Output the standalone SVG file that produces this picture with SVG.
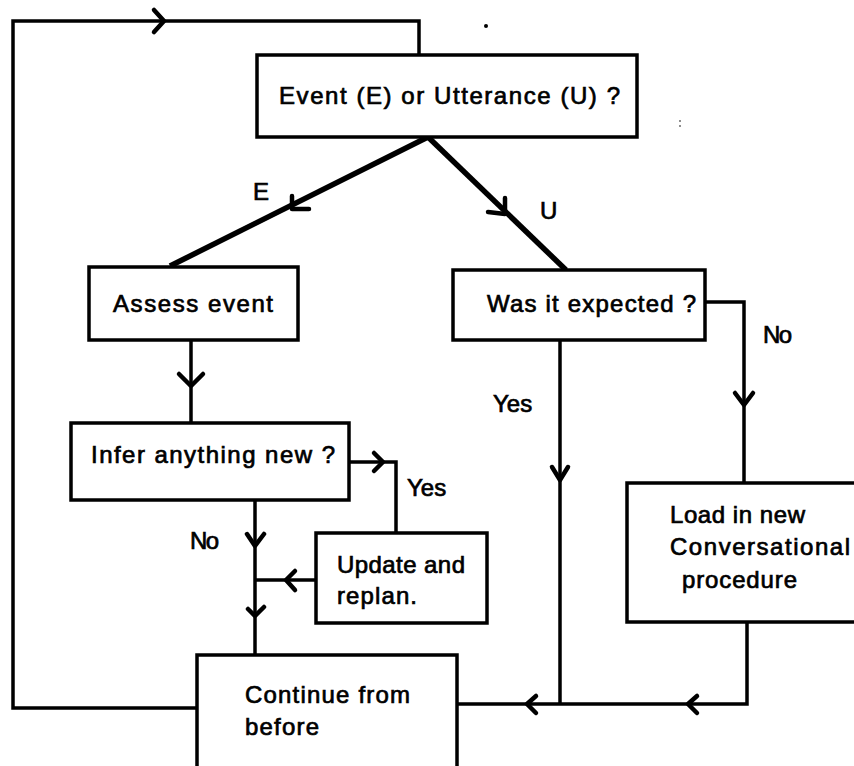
<svg xmlns="http://www.w3.org/2000/svg" width="854" height="766" viewBox="0 0 854 766">
<style>
.box{fill:#fff;stroke:#000;stroke-width:3.5}
.ln{fill:none;stroke:#000;stroke-width:3.5;stroke-linejoin:miter}
.thick{fill:none;stroke:#000;stroke-width:5.5}
.arr{fill:none;stroke:#000;stroke-width:4.5;stroke-linecap:round;stroke-linejoin:round}
text{font-family:"Liberation Sans",Arial,sans-serif;font-size:24px;fill:#000;stroke:#000;stroke-width:0.7}
</style>
<rect width="854" height="766" fill="#fff"/>
<g id="connectors">
<path class="ln" d="M197,708 H13 V21 H419 V55"/>
<path class="thick" d="M428,137 L170,266"/>
<path class="thick" d="M428,137 L566,270"/>
<path class="ln" d="M191,340 V423"/>
<path class="ln" d="M349,462 H396 V533"/>
<path class="ln" d="M255,500 V655"/>
<path class="ln" d="M316,580 H255"/>
<path class="ln" d="M705,302 H744 V483"/>
<path class="ln" d="M560,340 V704"/>
<path class="ln" d="M747,622 V704 H457"/>
<path class="arr" d="M154,10 L164,21 L154,32"/>
<path class="arr" d="M292,196 L292,209 L309,209"/>
<path class="arr" d="M505,198 L505,214 L488,212"/>
<path class="arr" d="M179,374 L191,386 L203,374"/>
<path class="arr" d="M374,453 L383,462 L374,471"/>
<path class="arr" d="M735,393 L744,405 L753,393"/>
<path class="arr" d="M552,467 L560,480 L568,467"/>
<path class="arr" d="M247,534 L255,546 L264,534"/>
<path class="arr" d="M248,609 L255,616 L264,607"/>
<path class="arr" d="M295,571 L286,580 L295,590"/>
<path class="arr" d="M536,696 L527,704 L536,713"/>
<path class="arr" d="M697,696 L688,704 L697,713"/>
</g>
<g id="labels">
<text x="253" y="200">E</text>
<text x="540" y="219">U</text>
<text x="763" y="343" letter-spacing="-1.5">No</text>
<text x="493" y="412">Yes</text>
<text x="407" y="496">Yes</text>
<text x="190" y="549" letter-spacing="-1.5">No</text>
</g>
<g id="node-event-or-utterance">
<rect class="box" x="257" y="55" width="380" height="82"/>
<text x="279" y="104" textLength="341" lengthAdjust="spacing">Event (E) or Utterance (U) ?</text>
</g>
<g id="node-assess-event">
<rect class="box" x="89" y="267" width="209" height="73"/>
<text x="113" y="312" textLength="160" lengthAdjust="spacing">Assess event</text>
</g>
<g id="node-was-it-expected">
<rect class="box" x="453" y="270" width="252" height="70"/>
<text x="487" y="312" textLength="209" lengthAdjust="spacing">Was it expected ?</text>
</g>
<g id="node-infer">
<rect class="box" x="71" y="423" width="278" height="77"/>
<text x="91" y="463" textLength="244" lengthAdjust="spacing">Infer anything new ?</text>
</g>
<g id="node-update">
<rect class="box" x="316" y="533" width="171" height="90"/>
<text x="337" y="573" textLength="128" lengthAdjust="spacing">Update and</text>
<text x="337" y="604" textLength="80" lengthAdjust="spacing">replan.</text>
</g>
<g id="node-load">
<rect class="box" x="627" y="483" width="240" height="139"/>
<text x="670" y="523" textLength="135" lengthAdjust="spacing">Load in new</text>
<text x="670" y="555" textLength="180" lengthAdjust="spacing">Conversational</text>
<text x="682" y="588" textLength="115" lengthAdjust="spacing">procedure</text>
</g>
<g id="node-continue">
<rect class="box" x="197" y="655" width="260" height="120"/>
<text x="245" y="703" textLength="165" lengthAdjust="spacing">Continue from</text>
<text x="245" y="735" textLength="74" lengthAdjust="spacing">before</text>
</g>
<g id="specks">
<circle cx="486" cy="26" r="2" fill="#000"/>
<circle cx="680" cy="121" r="0.8" fill="#000"/>
<circle cx="680" cy="126" r="0.8" fill="#000"/>
</g>
</svg>
